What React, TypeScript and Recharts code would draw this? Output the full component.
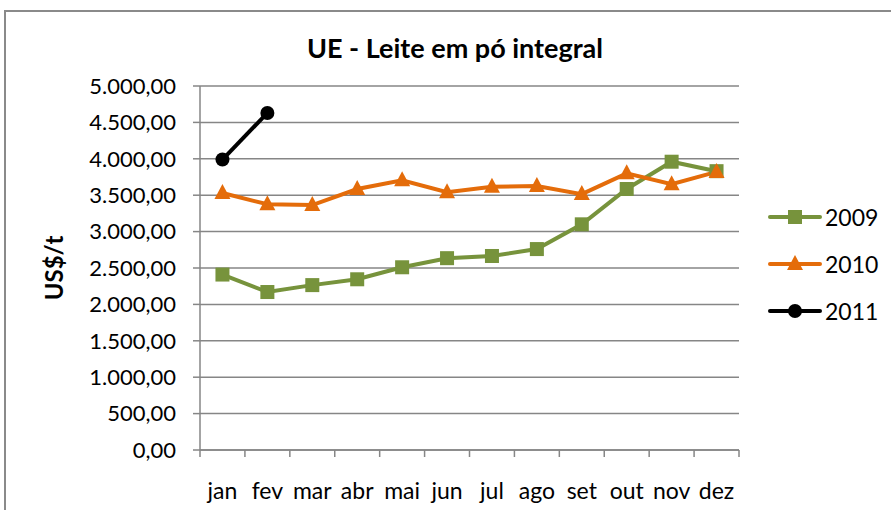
import React from "react";
import { LineChart, Line, XAxis, YAxis, CartesianGrid } from "recharts";

const months = ["jan", "fev", "mar", "abr", "mai", "jun", "jul", "ago", "set", "out", "nov", "dez"];
const v2009 = [2410, 2170, 2265, 2345, 2510, 2635, 2665, 2760, 3100, 3585, 3960, 3830];
const v2010 = [3530, 3375, 3365, 3585, 3705, 3540, 3615, 3625, 3515, 3800, 3650, 3820];
const v2011: (number | null)[] = [3990, 4630, null, null, null, null, null, null, null, null, null, null];
const yTicks = [0, 500, 1000, 1500, 2000, 2500, 3000, 3500, 4000, 4500, 5000];
const xBoundaries = [0, 1, 2, 3, 4, 5, 6, 7, 8, 9, 10, 11, 12];

const seriesInfo = [
  { key: "y2009", name: "2009", color: "#77933C", shape: "square" },
  { key: "y2010", name: "2010", color: "#E46C0A", shape: "triangle" },
  { key: "y2011", name: "2011", color: "#000000", shape: "circle" },
];

const data = months.map((m, i) => ({
  x: i + 0.5,
  month: m,
  y2009: v2009[i],
  y2010: v2010[i],
  y2011: v2011[i],
}));

const FONT = "Lato, 'Open Sans', sans-serif";

const fmt = (v: number) => {
  const s = Math.round(v).toString();
  const withDots = s.replace(/\B(?=(\d{3})+(?!\d))/g, ".");
  return withDots + ",00";
};

function Marker({ cx, cy, shape, color }: any) {
  if (cx == null || cy == null) return null;
  if (shape === "square") {
    return <rect x={cx - 7} y={cy - 7} width={14} height={14} fill={color} />;
  }
  if (shape === "triangle") {
    return <polygon points={`${cx},${cy - 9} ${cx + 8},${cy + 6} ${cx - 8},${cy + 6}`} fill={color} />;
  }
  return <circle cx={cx} cy={cy} r={7} fill={color} />;
}

const makeDot = (shape: string, color: string) => (props: any) => {
  const { cx, cy, value, index } = props;
  if (value == null) return <g key={index} />;
  return <Marker key={index} cx={cx} cy={cy} shape={shape} color={color} />;
};

function LegendBox() {
  return (
    <div style={{ position: "absolute", left: 767, top: 193, fontFamily: FONT, fontSize: 23, color: "#000" }}>
      {seriesInfo.map((s) => (
        <div key={s.key} style={{ display: "flex", alignItems: "center", height: 47 }}>
          <svg width={56} height={20} style={{ display: "block" }}>
            <line x1={3} y1={10} x2={53} y2={10} stroke={s.color} strokeWidth={4} strokeLinecap="round" />
            <Marker cx={28} cy={10} shape={s.shape} color={s.color} />
          </svg>
          <span style={{ marginLeft: 2, lineHeight: "24px" }}>{s.name}</span>
        </div>
      ))}
    </div>
  );
}

export default function App() {
  return (
    <div style={{ position: "relative", width: 891, height: 510, overflow: "hidden", background: "#fff" }}>
      <style>{"body{margin:0}"}</style>
      <div
        style={{
          position: "absolute",
          left: 4,
          top: 10,
          width: 900,
          height: 520,
          border: "2px solid #8a8a8a",
          boxSizing: "border-box",
        }}
      />
      <div
        style={{
          position: "absolute",
          left: 0,
          width: 910,
          top: 31,
          textAlign: "center",
          fontFamily: FONT,
          fontWeight: 700,
          fontSize: 27,
          color: "#000",
        }}
      >
        UE - Leite em pó integral
      </div>
      <div style={{ position: "absolute", left: 0, top: 0 }}>
        <LineChart width={891} height={510} data={data} margin={{ top: 86, right: 152, left: 0, bottom: 0 }}>
          <CartesianGrid vertical={false} stroke="#868686" strokeWidth={1.5} />
          <XAxis
            dataKey="x"
            type="number"
            domain={[0, 12]}
            ticks={xBoundaries}
            tickFormatter={() => ""}
            tickLine={{ stroke: "#868686", strokeWidth: 1.5 }}
            tickSize={7}
            height={1}
            stroke="#868686"
            strokeWidth={1.5}
            interval={0}
          />
          <XAxis
            xAxisId="lbl"
            dataKey="x"
            type="number"
            domain={[0, 12]}
            ticks={data.map((d) => d.x)}
            tickFormatter={(v: number) => months[Math.floor(v)]}
            axisLine={false}
            tickLine={false}
            tickSize={0}
            tickMargin={32}
            height={59}
            orientation="bottom"
            tick={{ fill: "#000", fontSize: 23, fontFamily: FONT }}
            interval={0}
          />
          <YAxis
            type="number"
            domain={[0, 5000]}
            ticks={yTicks}
            tickFormatter={fmt}
            width={200}
            tickSize={7}
            tickMargin={17}
            stroke="#868686"
            strokeWidth={1.5}
            interval={0}
            tick={{ fill: "#000", fontSize: 22, fontFamily: FONT }}
            label={{
              value: "US$/t",
              angle: -90,
              position: "insideLeft",
              offset: 54,
              style: { fontFamily: FONT, fontWeight: 700, fontSize: 24, fill: "#000", textAnchor: "middle" },
            }}
          />
          {seriesInfo.map((s) => (
            <Line
              key={s.key}
              dataKey={s.key}
              name={s.name}
              stroke={s.color}
              strokeWidth={4}
              dot={makeDot(s.shape, s.color)}
              activeDot={false}
              isAnimationActive={false}
              connectNulls={false}
            />
          ))}
        </LineChart>
      </div>
      <LegendBox />
    </div>
  );
}
